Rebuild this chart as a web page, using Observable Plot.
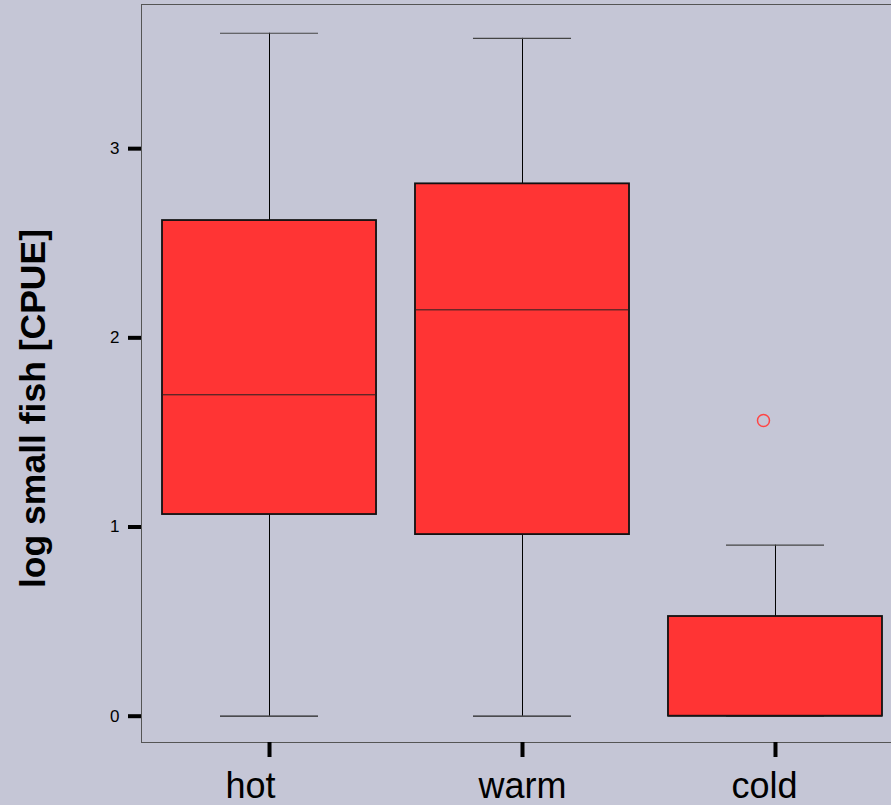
<!DOCTYPE html>
<html>
<head>
<meta charset="utf-8">
<script src="https://cdn.jsdelivr.net/npm/d3@7"></script>
<script src="https://cdn.jsdelivr.net/npm/@observablehq/plot@0.6"></script>
<style>
  html, body { margin: 0; padding: 0; background: #c5c6d6; }
  #chart { width: 891px; height: 805px; overflow: hidden; }
</style>
</head>
<body>
<div id="chart"></div>
<script>
const categories = ["hot", "warm", "cold"];
const lowWhisker = [0, 0, 0];
const q1 = [1.066, 0.960, 0];
const median = [1.699, 2.148, 0];
const q3 = [2.620, 2.814, 0.527];
const highWhisker = [3.610, 3.583, 0.904];
const outlierCategories = ["cold"];
const outlierValues = [1.563];
const yTicks = [0, 1, 2, 3];
const yLabel = "log small fish [CPUE]";

const boxes = categories.map((c, i) => ({
  cat: c, lo: lowWhisker[i], q1: q1[i], med: median[i], q3: q3[i], hi: highWhisker[i]
}));
const outliers = outlierCategories.map((c, i) => ({cat: c, value: outlierValues[i]}));

const font = "'Liberation Sans', Arial, Helvetica, sans-serif";

const chart = Plot.plot({
  width: 891,
  height: 805,
  marginLeft: 141,
  marginRight: -12,
  marginTop: 4,
  marginBottom: 63,
  style: {background: "#c5c6d6", fontFamily: font, color: "black", overflow: "hidden"},
  x: {domain: categories, paddingInner: 0.154, paddingOuter: 0.083, round: false, axis: null},
  y: {domain: [-0.139, 3.762], axis: null},
  marks: [
    Plot.frame({stroke: "#555", strokeWidth: 1}),
    Plot.ruleX(boxes, {x: "cat", y1: "q3", y2: "hi", stroke: "black", strokeWidth: 1}),
    Plot.ruleX(boxes, {x: "cat", y1: "lo", y2: "q1", stroke: "black", strokeWidth: 1}),
    Plot.tickY(boxes, {x: "cat", y: "hi", stroke: "#444", strokeWidth: 1.2, insetLeft: 58, insetRight: 58}),
    Plot.tickY(boxes, {x: "cat", y: "lo", stroke: "#222", strokeWidth: 1.2, insetLeft: 58, insetRight: 58}),
    Plot.barY(boxes, {x: "cat", y1: "q1", y2: "q3", fill: "#ff3434", stroke: "#111", strokeWidth: 1.8}),
    Plot.tickY(boxes, {x: "cat", y: "med", stroke: "#222", strokeWidth: 1}),
    Plot.dot(outliers, {x: "cat", y: "value", r: 6, stroke: "#ff4545", strokeWidth: 1.5, fill: "none", dx: -12}),
    Plot.axisY(yTicks, {tickSize: 13, tickPadding: 9, tickFormat: d => String(d), strokeWidth: 4, stroke: "black", fontSize: 17, fill: "black", label: null}),
    Plot.axisX({tickSize: 15, strokeWidth: 4, stroke: "black", fill: "none", label: null}),
    Plot.text(categories, {x: d => d, text: d => d, frameAnchor: "bottom", textAnchor: "start", lineAnchor: "top", dx: -44, dy: 30, fontSize: 36, fill: "black"}),
    Plot.text([yLabel], {text: d => d, frameAnchor: "left", textAnchor: "middle", rotate: -90, dx: -108, dy: 35, fontSize: 35.5, fontWeight: "bold", fill: "black"})
  ]
});
document.getElementById("chart").appendChild(chart);
</script>
</body>
</html>
